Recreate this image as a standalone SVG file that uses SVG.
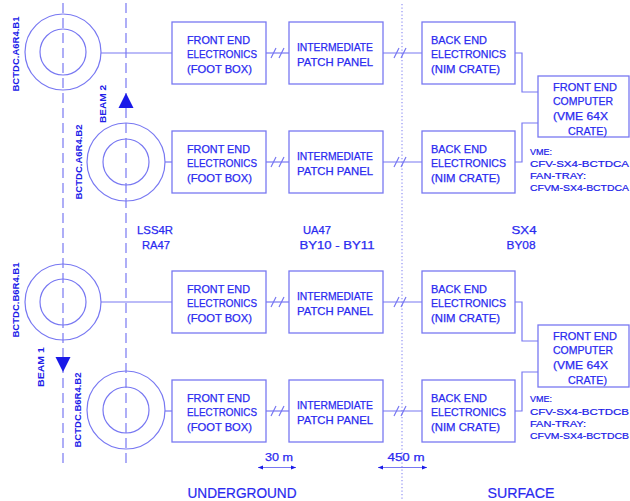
<svg xmlns="http://www.w3.org/2000/svg" width="630" height="501" viewBox="0 0 630 501">
<defs>
<style>
.ln{fill:none;stroke:#7878f2;stroke-width:1.2}
.bx{fill:#fff;stroke:#7878f2;stroke-width:1.3}
.cl{fill:none;stroke:#7878f2;stroke-width:1.2;stroke-dasharray:10 5}
.dt{fill:none;stroke:#9a9af4;stroke-width:1.3;stroke-dasharray:1.3 2.2}
.t{font-family:"Liberation Sans",Arial,sans-serif;font-size:11px;fill:#2a2af0;stroke:#2a2af0;stroke-width:0.25}
.s{font-family:"Liberation Sans",Arial,sans-serif;font-size:9px;fill:#1a1ae8;stroke:#1a1ae8;stroke-width:0.2}
.r{font-family:"Liberation Sans",Arial,sans-serif;font-size:9.5px;font-weight:bold;fill:#2020e8}
.b{font-family:"Liberation Sans",Arial,sans-serif;font-size:14px;fill:#2a2af0;stroke:#2a2af0;stroke-width:0.2}
.ar{fill:#1a1ae8}
</style>
<marker id="ah" viewBox="0 0 10 10" refX="10" refY="5" markerWidth="7" markerHeight="5" orient="auto-start-reverse" markerUnits="userSpaceOnUse">
<path d="M0,1 L10,5 L0,9 z" fill="#1a1ae8"/>
</marker>
</defs>
<rect width="630" height="501" fill="#fff"/>

<g id="axes">
<line class="cl" x1="63" y1="3" x2="63" y2="466"/>
<line class="cl" x1="126" y1="3" x2="126" y2="466"/>
<line class="dt" x1="402" y1="4" x2="402" y2="501"/>
</g>

<g id="connectors">
<line class="ln" x1="101" y1="53" x2="172" y2="53"/>
<line class="ln" x1="165" y1="162" x2="172" y2="162"/>
<line class="ln" x1="101" y1="302" x2="172" y2="302"/>
<line class="ln" x1="165" y1="411" x2="172" y2="411"/>
<g id="fe-ipp">
<line class="ln" x1="266" y1="53" x2="289" y2="53"/>
<line class="ln" x1="266" y1="162" x2="289" y2="162"/>
<line class="ln" x1="266" y1="302" x2="289" y2="302"/>
<line class="ln" x1="266" y1="411" x2="289" y2="411"/>
</g>
<g id="ipp-be">
<line class="ln" x1="383" y1="53" x2="422" y2="53"/>
<line class="ln" x1="383" y1="162" x2="422" y2="162"/>
<line class="ln" x1="383" y1="302" x2="422" y2="302"/>
<line class="ln" x1="383" y1="411" x2="422" y2="411"/>
</g>
<g id="breaks" class="ln">
<path d="M271,58 L276,48 M279,58 L284,48"/>
<path d="M271,167 L276,157 M279,167 L284,157"/>
<path d="M271,307 L276,297 M279,307 L284,297"/>
<path d="M271,416 L276,406 M279,416 L284,406"/>
<path d="M394,58 L399,48 M401,58 L406,48"/>
<path d="M394,167 L399,157 M401,167 L406,157"/>
<path d="M394,307 L399,297 M401,307 L406,297"/>
<path d="M394,416 L399,406 M401,416 L406,406"/>
</g>
<polyline class="ln" points="515,53 522,53 522,92 538,92"/>
<polyline class="ln" points="515,162 522,162 522,123 538,123"/>
<polyline class="ln" points="515,302 522,302 522,341 538,341"/>
<polyline class="ln" points="515,411 522,411 522,372 538,372"/>
</g>

<g id="bctdc-a6r4-b1">
<circle class="ln" cx="63" cy="52" r="38"/>
<circle class="ln" cx="63" cy="52" r="23"/>
<text class="r" transform="translate(19,54) rotate(-90)" text-anchor="middle" textLength="75" lengthAdjust="spacingAndGlyphs">BCTDC.A6R4.B1</text>
</g>
<g id="bctdc-a6r4-b2">
<circle class="ln" cx="126" cy="162" r="39"/>
<circle class="ln" cx="126" cy="162" r="23"/>
<text class="r" transform="translate(82,162) rotate(-90)" text-anchor="middle" textLength="75" lengthAdjust="spacingAndGlyphs">BCTDC.A6R4.B2</text>
</g>
<g id="bctdc-b6r4-b1">
<circle class="ln" cx="63" cy="302" r="38"/>
<circle class="ln" cx="63" cy="302" r="23"/>
<text class="r" transform="translate(19,300) rotate(-90)" text-anchor="middle" textLength="75" lengthAdjust="spacingAndGlyphs">BCTDC.B6R4.B1</text>
</g>
<g id="bctdc-b6r4-b2">
<circle class="ln" cx="126" cy="410" r="39"/>
<circle class="ln" cx="126" cy="410" r="23"/>
<text class="r" transform="translate(81,410) rotate(-90)" text-anchor="middle" textLength="75" lengthAdjust="spacingAndGlyphs">BCTDC.B6R4.B2</text>
</g>

<g id="beam2">
<path class="ar" d="M126,93 L133.5,108 L118.5,108 z"/>
<text class="r" transform="translate(106,104) rotate(-90)" text-anchor="middle" textLength="38" lengthAdjust="spacingAndGlyphs">BEAM 2</text>
</g>
<g id="beam1">
<path class="ar" d="M63,372 L70.5,357 L55.5,357 z"/>
<text class="r" transform="translate(44,367) rotate(-90)" text-anchor="middle" textLength="40" lengthAdjust="spacingAndGlyphs">BEAM 1</text>
</g>

<g id="fe1">
<rect class="bx" x="172" y="22" width="94" height="62"/>
<text class="t" x="187" y="44" textLength="63" lengthAdjust="spacingAndGlyphs">FRONT END</text>
<text class="t" x="187" y="58" textLength="70" lengthAdjust="spacingAndGlyphs">ELECTRONICS</text>
<text class="t" x="187" y="73" textLength="65" lengthAdjust="spacingAndGlyphs">(FOOT BOX)</text>
</g>
<g id="fe2">
<rect class="bx" x="172" y="131" width="94" height="62"/>
<text class="t" x="187" y="153" textLength="63" lengthAdjust="spacingAndGlyphs">FRONT END</text>
<text class="t" x="187" y="167" textLength="70" lengthAdjust="spacingAndGlyphs">ELECTRONICS</text>
<text class="t" x="187" y="182" textLength="65" lengthAdjust="spacingAndGlyphs">(FOOT BOX)</text>
</g>
<g id="fe3">
<rect class="bx" x="172" y="271" width="94" height="62"/>
<text class="t" x="187" y="293" textLength="63" lengthAdjust="spacingAndGlyphs">FRONT END</text>
<text class="t" x="187" y="307" textLength="70" lengthAdjust="spacingAndGlyphs">ELECTRONICS</text>
<text class="t" x="187" y="322" textLength="65" lengthAdjust="spacingAndGlyphs">(FOOT BOX)</text>
</g>
<g id="fe4">
<rect class="bx" x="172" y="380" width="94" height="62"/>
<text class="t" x="187" y="402" textLength="63" lengthAdjust="spacingAndGlyphs">FRONT END</text>
<text class="t" x="187" y="416" textLength="70" lengthAdjust="spacingAndGlyphs">ELECTRONICS</text>
<text class="t" x="187" y="431" textLength="65" lengthAdjust="spacingAndGlyphs">(FOOT BOX)</text>
</g>

<g id="ipp1">
<rect class="bx" x="289" y="22" width="94" height="62"/>
<text class="t" x="297" y="51" textLength="76" lengthAdjust="spacingAndGlyphs">INTERMEDIATE</text>
<text class="t" x="297" y="66" textLength="76" lengthAdjust="spacingAndGlyphs">PATCH PANEL</text>
</g>
<g id="ipp2">
<rect class="bx" x="289" y="131" width="94" height="62"/>
<text class="t" x="297" y="160" textLength="76" lengthAdjust="spacingAndGlyphs">INTERMEDIATE</text>
<text class="t" x="297" y="175" textLength="76" lengthAdjust="spacingAndGlyphs">PATCH PANEL</text>
</g>
<g id="ipp3">
<rect class="bx" x="289" y="271" width="94" height="62"/>
<text class="t" x="297" y="300" textLength="76" lengthAdjust="spacingAndGlyphs">INTERMEDIATE</text>
<text class="t" x="297" y="315" textLength="76" lengthAdjust="spacingAndGlyphs">PATCH PANEL</text>
</g>
<g id="ipp4">
<rect class="bx" x="289" y="380" width="94" height="62"/>
<text class="t" x="297" y="409" textLength="76" lengthAdjust="spacingAndGlyphs">INTERMEDIATE</text>
<text class="t" x="297" y="424" textLength="76" lengthAdjust="spacingAndGlyphs">PATCH PANEL</text>
</g>

<g id="be1">
<rect class="bx" x="422" y="22" width="93" height="62"/>
<text class="t" x="431" y="44" textLength="56" lengthAdjust="spacingAndGlyphs">BACK END</text>
<text class="t" x="431" y="58" textLength="75" lengthAdjust="spacingAndGlyphs">ELECTRONICS</text>
<text class="t" x="431" y="73" textLength="69" lengthAdjust="spacingAndGlyphs">(NIM CRATE)</text>
</g>
<g id="be2">
<rect class="bx" x="422" y="131" width="93" height="62"/>
<text class="t" x="431" y="153" textLength="56" lengthAdjust="spacingAndGlyphs">BACK END</text>
<text class="t" x="431" y="167" textLength="75" lengthAdjust="spacingAndGlyphs">ELECTRONICS</text>
<text class="t" x="431" y="182" textLength="69" lengthAdjust="spacingAndGlyphs">(NIM CRATE)</text>
</g>
<g id="be3">
<rect class="bx" x="422" y="271" width="93" height="62"/>
<text class="t" x="431" y="293" textLength="56" lengthAdjust="spacingAndGlyphs">BACK END</text>
<text class="t" x="431" y="307" textLength="75" lengthAdjust="spacingAndGlyphs">ELECTRONICS</text>
<text class="t" x="431" y="322" textLength="69" lengthAdjust="spacingAndGlyphs">(NIM CRATE)</text>
</g>
<g id="be4">
<rect class="bx" x="422" y="380" width="93" height="62"/>
<text class="t" x="431" y="402" textLength="56" lengthAdjust="spacingAndGlyphs">BACK END</text>
<text class="t" x="431" y="416" textLength="75" lengthAdjust="spacingAndGlyphs">ELECTRONICS</text>
<text class="t" x="431" y="431" textLength="69" lengthAdjust="spacingAndGlyphs">(NIM CRATE)</text>
</g>

<g id="fec1">
<rect class="bx" x="538" y="76" width="91" height="61"/>
<text class="t" x="553" y="91" textLength="64" lengthAdjust="spacingAndGlyphs">FRONT END</text>
<text class="t" x="553" y="105" textLength="60" lengthAdjust="spacingAndGlyphs">COMPUTER</text>
<text class="t" x="553" y="120" textLength="55" lengthAdjust="spacingAndGlyphs">(VME 64X</text>
<text class="t" x="568" y="135" textLength="39" lengthAdjust="spacingAndGlyphs">CRATE)</text>
<text class="s" x="530" y="155" textLength="22" lengthAdjust="spacingAndGlyphs">VME:</text>
<text class="s" x="530" y="167" textLength="99" lengthAdjust="spacingAndGlyphs">CFV-SX4-BCTDCA</text>
<text class="s" x="530" y="179" textLength="56" lengthAdjust="spacingAndGlyphs">FAN-TRAY:</text>
<text class="s" x="530" y="191" textLength="99" lengthAdjust="spacingAndGlyphs">CFVM-SX4-BCTDCA</text>
</g>
<g id="fec2">
<rect class="bx" x="538" y="325" width="91" height="62"/>
<text class="t" x="553" y="340" textLength="64" lengthAdjust="spacingAndGlyphs">FRONT END</text>
<text class="t" x="553" y="354" textLength="60" lengthAdjust="spacingAndGlyphs">COMPUTER</text>
<text class="t" x="553" y="369" textLength="55" lengthAdjust="spacingAndGlyphs">(VME 64X</text>
<text class="t" x="568" y="384" textLength="39" lengthAdjust="spacingAndGlyphs">CRATE)</text>
<text class="s" x="530" y="402" textLength="22" lengthAdjust="spacingAndGlyphs">VME:</text>
<text class="s" x="530" y="415" textLength="99" lengthAdjust="spacingAndGlyphs">CFV-SX4-BCTDCB</text>
<text class="s" x="530" y="427" textLength="56" lengthAdjust="spacingAndGlyphs">FAN-TRAY:</text>
<text class="s" x="530" y="439" textLength="99" lengthAdjust="spacingAndGlyphs">CFVM-SX4-BCTDCB</text>
</g>

<g id="labels">
<text class="t" x="155" y="234" text-anchor="middle" textLength="36" lengthAdjust="spacingAndGlyphs">LSS4R</text>
<text class="t" x="156" y="249" text-anchor="middle" textLength="28" lengthAdjust="spacingAndGlyphs">RA47</text>
<text class="t" x="317" y="234" text-anchor="middle" textLength="28" lengthAdjust="spacingAndGlyphs">UA47</text>
<text class="t" x="337" y="249" text-anchor="middle" textLength="75" lengthAdjust="spacingAndGlyphs">BY10 - BY11</text>
<text class="t" x="524" y="234" text-anchor="middle" textLength="25" lengthAdjust="spacingAndGlyphs">SX4</text>
<text class="t" x="521" y="249" text-anchor="middle" textLength="29" lengthAdjust="spacingAndGlyphs">BY08</text>
<text class="t" x="279" y="461" text-anchor="middle" textLength="28" lengthAdjust="spacingAndGlyphs">30 m</text>
<text class="t" x="406" y="461" text-anchor="middle" textLength="37" lengthAdjust="spacingAndGlyphs">450 m</text>
<line class="ln" x1="258" y1="467.5" x2="296" y2="467.5" stroke="#1a1ae8" marker-start="url(#ah)" marker-end="url(#ah)"/>
<line class="ln" x1="378" y1="467.5" x2="427" y2="467.5" stroke="#1a1ae8" marker-start="url(#ah)" marker-end="url(#ah)"/>
<text class="b" x="242" y="498" text-anchor="middle" textLength="109" lengthAdjust="spacingAndGlyphs">UNDERGROUND</text>
<text class="b" x="521" y="498" text-anchor="middle" textLength="67" lengthAdjust="spacingAndGlyphs">SURFACE</text>
</g>
</svg>
